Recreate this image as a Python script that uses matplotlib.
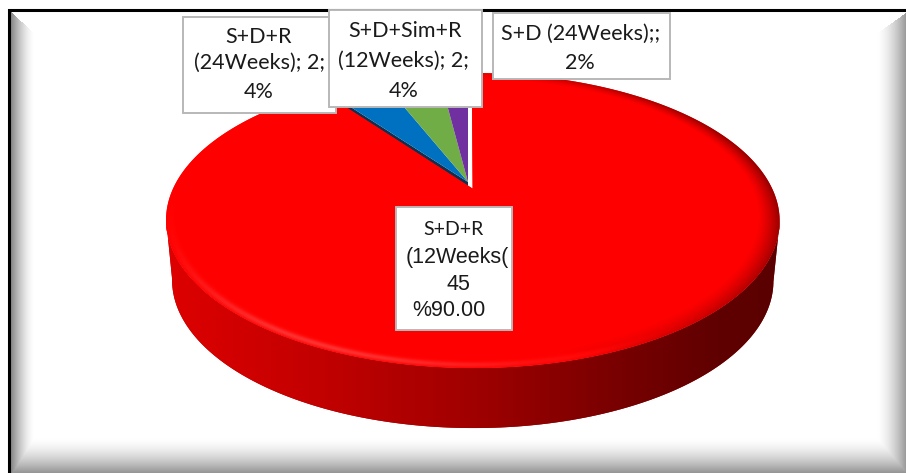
import numpy as np
import matplotlib
matplotlib.use("Agg")
import matplotlib.pyplot as plt
from matplotlib.patches import Polygon, Rectangle
from matplotlib.colors import LinearSegmentedColormap

# ---- data ----
series = ["S+D+R (12Weeks(", "S+D+R (24Weeks)", "S+D+Sim+R (12Weeks)", "S+D (24Weeks)"]
counts = [45, 2, 2, 1]
slice_colors = ["#ff0000", "#0070c0", "#70ad47", "#7030a0"]
explode = [0.05, 0.0, 0.0, 0.0]

total = sum(counts)
pcts = [100.0 * c / total for c in counts]

label_lines = [
    ["S+D+R", "(12Weeks(", f"{counts[0]}", f"%{pcts[0]:.2f}"],
    ["S+D+R", f"(24Weeks); {counts[1]};", f"{pcts[1]:.0f}%"],
    ["S+D+Sim+R", f"(12Weeks); {counts[2]};", f"{pcts[2]:.0f}%"],
    ["S+D (24Weeks);;", f"{pcts[3]:.0f}%"],
]

# ---- canvas in pixel units ----
W, H = 906, 473
fig = plt.figure(figsize=(W / 100, H / 100), dpi=100)
ax = fig.add_axes([0, 0, 1, 1])
ax.set_xlim(0, W)
ax.set_ylim(H, 0)
ax.axis("off")

xx, yy = np.meshgrid(np.arange(W) + 0.5, np.arange(H) + 0.5)

# ---- bevelled picture frame ----
def frame_image():
    left, top, right, bottom = 10.5, 11.5, W + 2, H + 2
    sides = [  # (distance, width, outer grey)
        (xx - left, 24.0, 0.50),
        (yy - top, 22.0, 1.00),
        (right - xx, 31.0, 0.56),
        (bottom - yy, 37.0, 0.54),
    ]
    ts = np.stack([np.clip(d / w, 0, 1) for d, w, g in sides])
    gs = np.array([g for d, w, g in sides])
    idx = np.argmin(ts, axis=0)
    t = np.take_along_axis(ts, idx[None], 0)[0]
    g = gs[idx]
    val = 1 - (1 - g) * (1 - t) ** 1.6
    img = np.dstack([val, val, val, np.ones_like(val)])
    img[(xx < left) | (yy < top)] = [1, 1, 1, 1]
    return img

ax.imshow(frame_image(), extent=(0, W, H, 0), zorder=0, interpolation="bilinear")
ax.plot([8.5, 8.5, W], [H, 10, 10], color="black", lw=2.2, zorder=1,
        solid_joinstyle="miter")

# ---- perspective 3-D pie ----
CX, CY = 468.0, 182.0
A, B, K = 296.5, 137.8, 0.214
DEPTH = 60.0
BOT_SCALE = 0.98


def project(u, v, bottom=False):
    w = 1 + K * v
    x = CX + A * u / w
    y = CY - B * v / w
    if bottom:
        x = CX + (x - CX) * BOT_SCALE
        y = y + DEPTH
    return x, y


edges = np.cumsum([0] + counts) / total * 2 * np.pi
wedges = []
for i, c in enumerate(counts):
    t0, t1 = edges[i], edges[i + 1]
    tm = 0.5 * (t0 + t1)
    du, dv = explode[i] * np.sin(tm), explode[i] * np.cos(tm)
    t = np.linspace(t0, t1, max(8, int(400 * (t1 - t0) / (2 * np.pi))))
    wedges.append((t0, t1, du, dv, t))

# dark radial wall of the blue slice, visible through the gap
t0b = edges[1]
p0 = project(0, 0)
p1 = project(np.sin(t0b), np.cos(t0b))
p2 = project(np.sin(t0b), np.cos(t0b), bottom=True)
p3 = project(0, 0, bottom=True)
ax.add_patch(Polygon([p0, p1, p2, p3], closed=True, facecolor="#10304f",
                     edgecolor="none", zorder=2))

# small slices (top faces)
for i in range(1, len(counts)):
    t0, t1, du, dv, t = wedges[i]
    ax_, ay_ = project(du + np.sin(t), dv + np.cos(t))
    cx0, cy0 = project(du, dv)
    pts = np.column_stack([np.r_[cx0, ax_], np.r_[cy0, ay_]])
    ax.add_patch(Polygon(pts, closed=True, facecolor=slice_colors[i],
                         edgecolor="none", zorder=3))

# main slice: side wall
t0, t1, du, dv, t = wedges[0]
tx, ty = project(du + np.sin(t), dv + np.cos(t))
bx, by = project(du + np.sin(t), dv + np.cos(t), bottom=True)
i_r, i_l = int(np.argmax(tx)), int(np.argmin(tx))
side_pts = np.column_stack([np.r_[tx[i_r:i_l + 1], bx[i_l:i_r - 1:-1]],
                            np.r_[ty[i_r:i_l + 1], by[i_l:i_r - 1:-1]]])
side = Polygon(side_pts, closed=True, facecolor="#a00000", edgecolor="none", zorder=4)
ax.add_patch(side)
side_cmap = LinearSegmentedColormap.from_list(
    "side", [(0, "#de0000"), (0.25, "#c20000"), (0.5, "#a00000"),
             (0.75, "#760000"), (0.9, "#600000"), (1, "#5a0000")])
xmin, xmax = side_pts[:, 0].min(), side_pts[:, 0].max()
grad = np.linspace(0, 1, 256)[None, :].repeat(2, 0)
im = ax.imshow(grad, cmap=side_cmap, extent=(xmin, xmax, side_pts[:, 1].max(),
               side_pts[:, 1].min()), aspect="auto", zorder=4.1,
               interpolation="bilinear")
im.set_clip_path(side)

# main slice: top face with rounded rim shading
cx0, cy0 = project(du, dv)
top_pts = np.column_stack([np.r_[cx0, tx], np.r_[cy0, ty]])
top = Polygon(top_pts, closed=True, facecolor=slice_colors[0], edgecolor="none", zorder=5)
ax.add_patch(top)

Yp = (CY - yy) / B
vv = Yp / (1 - K * Yp)
uu = (xx - CX) * (1 + K * vv) / A
ur, vr = uu - du, vv - dv
rr = np.hypot(ur, vr)
ang = np.arctan2(ur, vr)
band = np.clip((rr - 0.93) / 0.07, 0, 1)
facing = -0.85 * np.sin(ang) - 0.15 * np.cos(ang)
shade = 1 - 0.5 * band ** 1.4 * np.clip(-facing, 0, 1)
spec = np.exp(-((rr - 0.985) / 0.012) ** 2) * np.clip(np.cos(ang - np.radians(205)), 0, 1) ** 6
hl = 0.35 * spec
face = np.dstack([np.clip(shade + hl, 0, 1), hl * 0.55, hl * 0.55, np.ones_like(rr)])
fim = ax.imshow(face, extent=(0, W, H, 0), zorder=5.1, interpolation="bilinear")
fim.set_clip_path(top)

# ---- data labels ----
boxes = [(396, 207, 512, 330), (183, 17, 336, 113), (329, 10, 482, 107), (493, 13, 670, 79)]
line_pos = [
    [(453, 229), (457, 257), (458, 285), (449, 310)],
    [(259, 37), (260, 63), (259, 92)],
    [(405, 31), (404, 61), (404, 91)],
    [(581, 34), (580, 63)],
]
calibri_like = "Lato"
arial_like = "Liberation Sans"
for k, order in enumerate([0, 1, 2, 3]):
    x0, y0, x1, y1 = boxes[order]
    ax.add_patch(Rectangle((x0, y0), x1 - x0, y1 - y0, facecolor="white",
                           edgecolor="#b8b8b8", lw=1.4, zorder=10 + k))
    for j, (txt, (px, py)) in enumerate(zip(label_lines[order], line_pos[order])):
        if order == 0 and j > 0:
            fam, size = arial_like, 15.5
        elif order == 0:
            fam, size = calibri_like, 14
        else:
            fam, size = calibri_like, 15.5
        ax.text(px, py, txt, ha="center", va="center", fontsize=size,
                family=fam, color="#1a1a1a", zorder=10.5 + k)

fig.savefig("out.png", dpi=100)
